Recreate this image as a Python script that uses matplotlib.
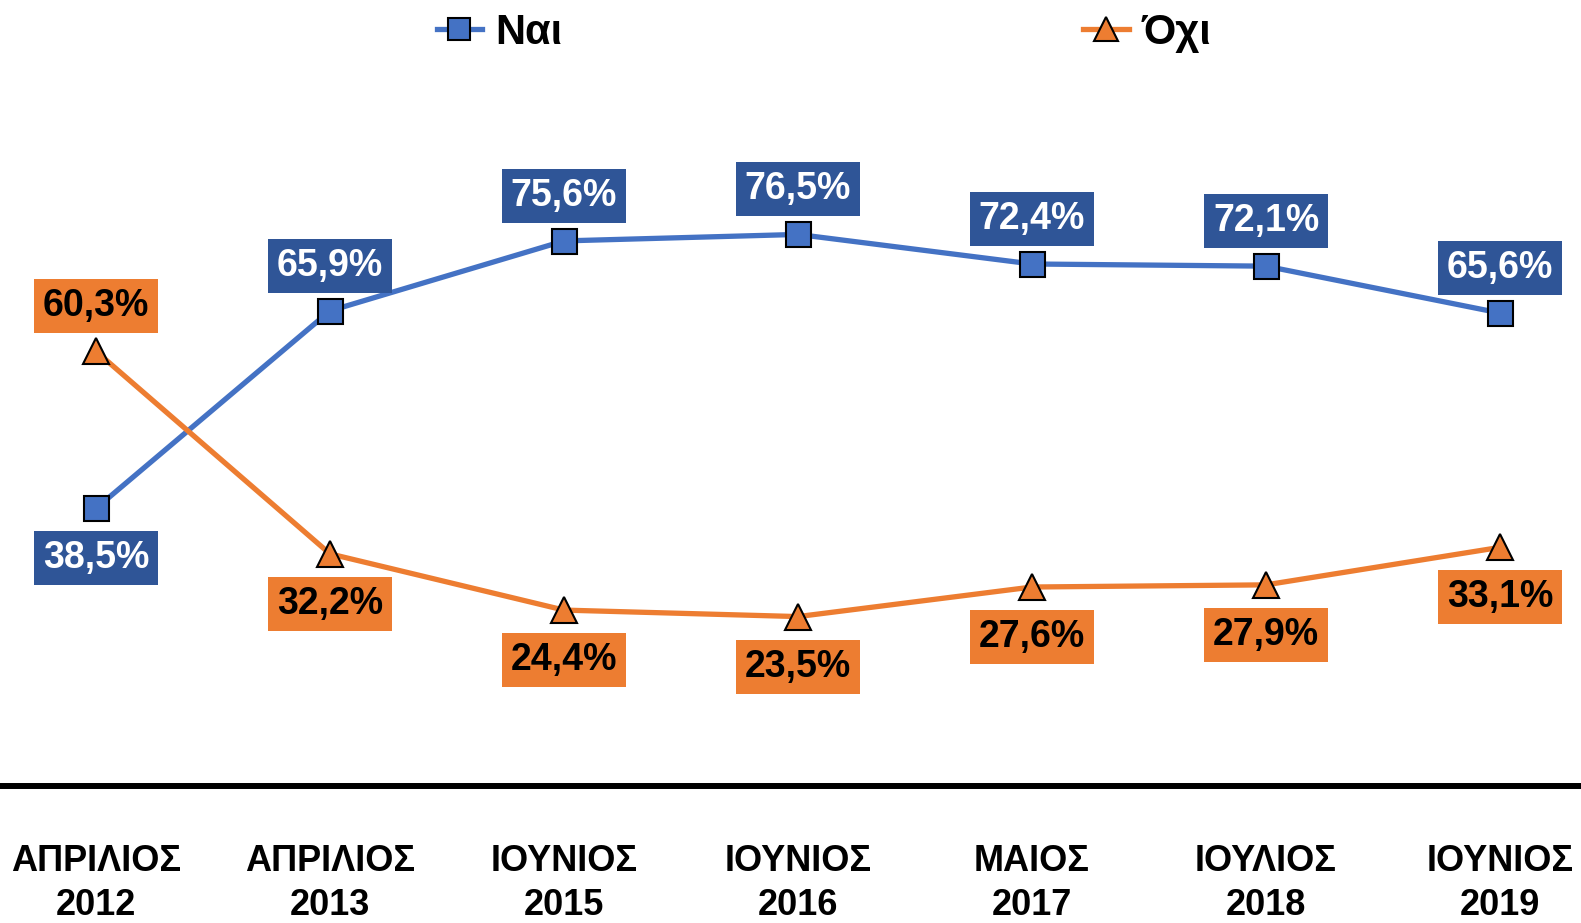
import matplotlib.pyplot as plt

months = ["ΑΠΡΙΛΙΟΣ\n2012", "ΑΠΡΙΛΙΟΣ\n2013", "ΙΟΥΝΙΟΣ\n2015", "ΙΟΥΝΙΟΣ\n2016",
          "ΜΑΙΟΣ\n2017", "ΙΟΥΛΙΟΣ\n2018", "ΙΟΥΝΙΟΣ\n2019"]
nai = [38.5, 65.9, 75.6, 76.5, 72.4, 72.1, 65.6]
ochi = [60.3, 32.2, 24.4, 23.5, 27.6, 27.9, 33.1]

blue = '#4472C4'
blue_box = '#2F5597'
orange = '#ED7D31'
narrow = ['Liberation Sans Narrow', 'Liberation Sans', 'DejaVu Sans']

fig = plt.figure(figsize=(15.81, 9.23), dpi=100)
ax = fig.add_axes([0, 0.1484, 1, 0.7812])
x = list(range(len(months)))

ax.plot(x, nai, color=blue, lw=3.8, marker='s', ms=18, mfc=blue, mec='black', mew=1.5, label='Ναι', zorder=3)
ax.plot(x, ochi, color=orange, lw=3.8, marker='^', ms=19, mfc=orange, mec='black', mew=1.5, label='Όχι', zorder=3)


def fmt(v):
    return f"{v:.1f}%".replace('.', ',')


up_off, down_off = 32.5, -36
for i in x:
    up_nai = nai[i] > ochi[i]
    ax.annotate(fmt(nai[i]), (i, nai[i]), xytext=(0, up_off if up_nai else down_off), textcoords='offset points',
                ha='center', va='center', fontsize=27, fontweight='bold', color='white',
                family='Liberation Sans',
                bbox=dict(boxstyle='square,pad=0.24', fc=blue_box, ec='none'), annotation_clip=False, zorder=4)
    ax.annotate(fmt(ochi[i]), (i, ochi[i]), xytext=(0, down_off if up_nai else up_off), textcoords='offset points',
                ha='center', va='center', fontsize=27, fontweight='bold', color='black',
                family='Liberation Sans',
                bbox=dict(boxstyle='square,pad=0.24', fc=orange, ec='none'), annotation_clip=False, zorder=4)

ax.set_xlim(-0.41, 6.346)
ax.set_ylim(0, 100)
ax.set_yticks([])
ax.set_xticks(x)
ax.set_xticklabels(months, fontsize=26, fontweight='bold', family=narrow, linespacing=1.33)
ax.tick_params(axis='x', length=0, pad=42)
for s in ['top', 'left', 'right']:
    ax.spines[s].set_visible(False)
ax.spines['bottom'].set_linewidth(4.3)
ax.spines['bottom'].set_color('black')

fig.legend(loc='center', bbox_to_anchor=(0.521, 1 - 33 / 923), ncol=2, frameon=False,
           prop={'family': narrow, 'weight': 'bold', 'size': 30},
           handlelength=1.1, handletextpad=0.3, columnspacing=12.5, markerscale=0.9)

fig.savefig('out.png', dpi=100)
